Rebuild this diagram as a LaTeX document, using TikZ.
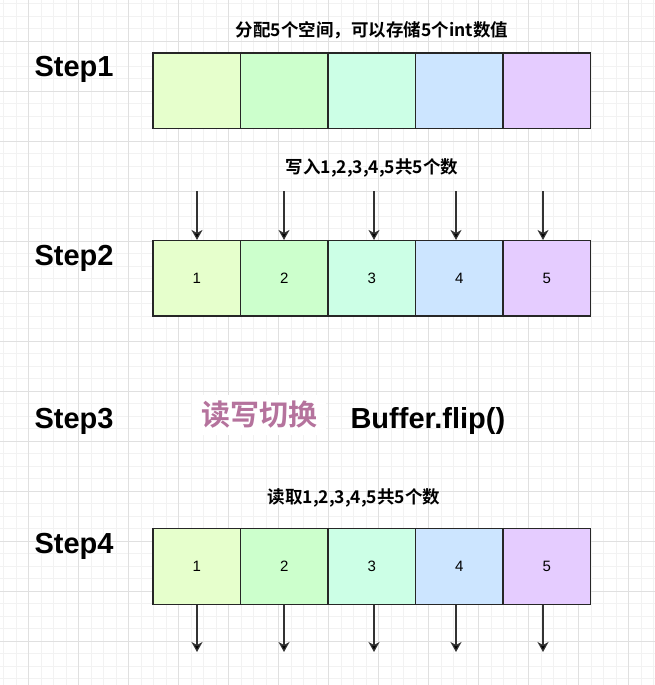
\documentclass[tikz,border=0pt]{standalone}
\usepackage{fontspec}
\setmainfont{Liberation Sans}
\newfontfamily\cjk{Noto Sans CJK SC}[BoldFont={Noto Sans CJK SC Bold}]
\usetikzlibrary{arrows.meta}
\definecolor{cell1}{HTML}{E6FFCC}
\definecolor{cell2}{HTML}{CCFFCC}
\definecolor{cell3}{HTML}{CCFFE6}
\definecolor{cell4}{HTML}{CCE5FF}
\definecolor{cell5}{HTML}{E5CCFF}
\definecolor{flipcol}{HTML}{B5739D}

\begin{document}
\begin{tikzpicture}[x=1pt,y=-1pt,
 minor/.style={draw=black!5,line width=.6pt},
 major/.style={draw=black!12,line width=.8pt},
 cell/.style={draw=black!85,line width=1.2pt,minimum width=87.5pt,minimum height=75.5pt,inner sep=0pt,font=\fontsize{15}{18}\selectfont},
 steplabel/.style={anchor=base west,font=\fontsize{29}{34}\selectfont\bfseries},
 title/.style={font=\cjk\fontsize{17.5}{21}\selectfont\bfseries},
 arr/.style={draw=black!80,line width=1.2pt,-{Stealth[length=10pt,width=11pt,inset=3pt,fill=black]}}]
 \fill[white] (0,0) rectangle (655,685);
 \useasboundingbox (0,0) rectangle (655,685);
 \foreach \x in {3.3,15.8,...,655} \draw[minor] (\x,0)--(\x,685);
 \foreach \y in {3.5,16,...,685} \draw[minor] (0,\y)--(655,\y);
 \foreach \x in {28.3,78.3,...,655} \draw[major] (\x,0)--(\x,685);
 \foreach \y in {41,91,...,685} \draw[major] (0,\y)--(655,\y);

 \node[steplabel] (step1) at (31,77) {Step1};
 \node[steplabel] (step2) at (31,265) {Step2};
 \node[steplabel] (step3) at (31,428) {Step3};
 \node[steplabel] (step4) at (31,553) {Step4};

 \node[title] (alloctext) at (372,30) {分配5个空间，可以存储5个int数值};
 \node[title] (writetext) at (372,168) {写入1,2,3,4,5共5个数};
 \node[title] (readtext) at (354,498) {读取1,2,3,4,5共5个数};

 \foreach \i in {1,...,5} {
  \node[cell,fill=cell\i] (a\i) at (153+87.5*\i-43.75,90.8) {};
  \node[cell,fill=cell\i] (b\i) at (153+87.5*\i-43.75,278.3) {\i};
  \node[cell,fill=cell\i] (c\i) at (153+87.5*\i-43.75,566.5) {\i};
 }
 \foreach \x [count=\i] in {197,284,374,456,543} {
  \coordinate (t\i) at (\x,191);
  \coordinate (d\i) at (\x,652);
  \draw[arr] (t\i) -- (t\i |- b\i.north);
  \draw[arr] (d\i |- c\i.south) -- (d\i);
 }

 \node[fill=white,text=flipcol,inner xsep=9pt,inner ysep=6pt,font=\cjk\fontsize{29}{34}\selectfont\bfseries] (switch) at (259,415) {读写切换};
 \node[anchor=base west,font=\fontsize{29}{34}\selectfont\bfseries] (flip) at (347,428) {Buffer.flip()};
\end{tikzpicture}
\end{document}
